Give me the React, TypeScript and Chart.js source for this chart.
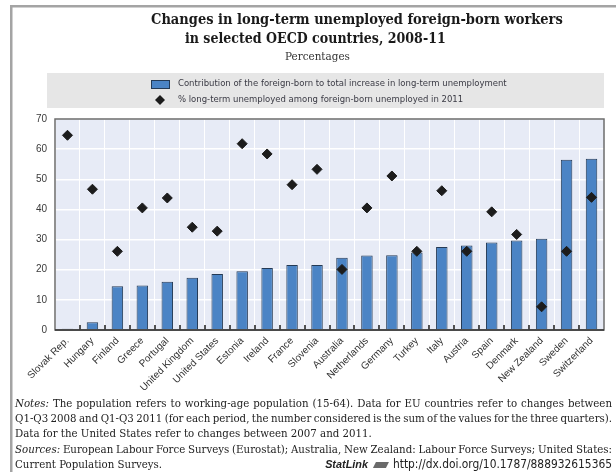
import React, { useEffect, useRef } from "react";
import { Chart, registerables } from "chart.js";

Chart.register(...registerables);

const countries = [
  "Slovak Rep.", "Hungary", "Finland", "Greece", "Portugal", "United Kingdom",
  "United States", "Estonia", "Ireland", "France", "Slovenia", "Australia",
  "Netherlands", "Germany", "Turkey", "Italy", "Austria", "Spain", "Denmark",
  "New Zealand", "Sweden", "Switzerland",
];
const contribution = [
  0.4, 2.6, 14.5, 14.8, 16.0, 17.3, 18.6, 19.5, 20.6, 21.6, 21.6, 24.0,
  24.7, 24.8, 25.7, 27.5, 28.0, 29.0, 29.7, 30.3, 56.5, 56.8,
];
const longTermShare = [
  64.6, 46.7, 26.1, 40.5, 43.8, 34.1, 32.8, 61.8, 58.4, 48.2, 53.3, 20.1,
  40.5, 51.1, 26.1, 46.2, 26.1, 39.2, 31.7, 7.7, 26.1, 44.0,
];
const yMin = 0;
const yMax = 70;
const yStep = 10;

const titleLines = [
  "Changes in long-term unemployed foreign-born workers",
  "in selected OECD countries, 2008-11",
];
const subtitle = "Percentages";
const legendLabels = [
  "Contribution of the foreign-born to total increase in long-term unemployment",
  "% long-term unemployed among foreign-born unemployed in 2011",
];
const noteLines: { text: string; italicFirst: boolean; justify: boolean }[] = [
  { text: "Notes: The population refers to working-age population (15-64). Data for EU countries refer to changes between", italicFirst: true, justify: true },
  { text: "Q1-Q3 2008 and Q1-Q3 2011 (for each period, the number considered is the sum of the values for the three quarters).", italicFirst: false, justify: true },
  { text: "Data for the United States refer to changes between 2007 and 2011.", italicFirst: false, justify: false },
  { text: "Sources: European Labour Force Surveys (Eurostat); Australia, New Zealand: Labour Force Surveys; United States:", italicFirst: true, justify: true },
  { text: "Current Population Surveys.", italicFirst: false, justify: false },
];
const statLinkLabel = "StatLink";
const statLinkUrl = "http://dx.doi.org/10.1787/888932615365";

const BAR_FILL = "#4b84c5";
const BAR_BORDER = "#243a55";
const DIAMOND = "#1c1c1c";
const PLOT_BG = "#e7ebf6";
const TITLE_SERIF = "'DejaVu Serif Condensed', 'DejaVu Serif', serif";
const NOTE_SERIF = "'DejaVu Serif Condensed', 'Liberation Serif', serif";
const SANS = "'Liberation Sans', Arial, sans-serif";
const NARROW = "'Liberation Sans Narrow', 'DejaVu Sans Condensed', 'Liberation Sans', sans-serif";

function fitText(ctx: CanvasRenderingContext2D, text: string, weight: string, family: string, base: number, x0: number, x1: number, y: number) {
  ctx.font = `${weight} ${base}px ${family}`;
  const w = ctx.measureText(text).width;
  const size = base * (x1 - x0) / w;
  ctx.font = `${weight} ${size}px ${family}`;
  ctx.textAlign = "left";
  ctx.textBaseline = "middle";
  ctx.fillText(text, x0, y);
  return size;
}

const decorPlugin = {
  id: "decor",
  beforeDraw(chart: any) {
    const ctx: CanvasRenderingContext2D = chart.ctx;
    const { left, right, top, bottom } = chart.chartArea;
    ctx.save();
    ctx.fillStyle = "#ffffff";
    ctx.fillRect(0, 0, chart.width, chart.height);
    // frame
    ctx.fillStyle = "#a4a4a4";
    ctx.fillRect(10, 5, chart.width - 10, 2.5);
    ctx.fillRect(10, 5, 2.5, chart.height - 5);
    // plot background
    ctx.fillStyle = PLOT_BG;
    ctx.fillRect(left, top, right - left, bottom - top);
    // title
    ctx.fillStyle = "#1a1a1a";
    fitText(ctx, titleLines[0], "bold", TITLE_SERIF, 15, 151, 563, 20);
    fitText(ctx, titleLines[1], "bold", TITLE_SERIF, 15, 185, 446, 39);
    ctx.fillStyle = "#333333";
    fitText(ctx, subtitle, "normal", TITLE_SERIF, 11, 285, 350, 57);
    // legend box
    ctx.fillStyle = "#e6e6e6";
    ctx.fillRect(47, 73, right - 47, 35);
    ctx.fillStyle = BAR_FILL;
    ctx.fillRect(151, 80, 18, 8);
    ctx.strokeStyle = BAR_BORDER;
    ctx.lineWidth = 1;
    ctx.strokeRect(151.5, 80.5, 18, 8);
    ctx.fillStyle = DIAMOND;
    ctx.beginPath();
    ctx.moveTo(160, 95);
    ctx.lineTo(165, 100);
    ctx.lineTo(160, 105);
    ctx.lineTo(155, 100);
    ctx.closePath();
    ctx.fill();
    ctx.fillStyle = "#3a3a44";
    const sz = fitText(ctx, legendLabels[0], "normal", NARROW, 10.5, 178, 507, 84);
    ctx.font = `${sz}px ${NARROW}`;
    ctx.fillText(legendLabels[1], 178, 100);

    // notes
    const x0 = 15, x1 = 612;
    const target = x1 - x0;
    let size = 12;
    for (const ln of noteLines) {
      if (!ln.justify) continue;
      const words = ln.text.split(" ");
      let sum = 0;
      words.forEach((wd, i) => {
        ctx.font = `${i === 0 && ln.italicFirst ? "italic " : ""}12px ${NOTE_SERIF}`;
        sum += ctx.measureText(wd).width;
      });
      const allowed = 12 * (target - (words.length - 1) * 2.4) / sum;
      size = Math.min(size, allowed);
    }
    const ys = [404, 419, 434, 450, 465];
    ctx.fillStyle = "#222222";
    ctx.textBaseline = "middle";
    ctx.textAlign = "left";
    noteLines.forEach((ln, li) => {
      const words = ln.text.split(" ");
      const widths = words.map((wd, i) => {
        ctx.font = `${i === 0 && ln.italicFirst ? "italic " : ""}${size}px ${NOTE_SERIF}`;
        return ctx.measureText(wd).width;
      });
      const sum = widths.reduce((a, b) => a + b, 0);
      ctx.font = `${size}px ${NOTE_SERIF}`;
      const sp = ln.justify ? (target - sum) / (words.length - 1) : ctx.measureText(" ").width;
      let x = x0;
      words.forEach((wd, i) => {
        ctx.font = `${i === 0 && ln.italicFirst ? "italic " : ""}${size}px ${NOTE_SERIF}`;
        ctx.fillText(wd, x, ys[li]);
        x += widths[i] + sp;
      });
    });
    // statlink
    ctx.textAlign = "right";
    ctx.font = `${size + 0.5}px ${NARROW}`;
    const uw = ctx.measureText(statLinkUrl).width;
    ctx.fillText(statLinkUrl, x1, ys[4]);
    const iconRight = x1 - uw - 4;
    ctx.fillStyle = "#6a6a6a";
    ctx.beginPath();
    ctx.moveTo(iconRight - 16, ys[4] + 3);
    ctx.lineTo(iconRight - 13, ys[4] - 3);
    ctx.lineTo(iconRight, ys[4] - 3);
    ctx.lineTo(iconRight - 3, ys[4] + 3);
    ctx.closePath();
    ctx.fill();
    ctx.fillStyle = "#222222";
    ctx.font = `italic bold ${size - 0.5}px ${SANS}`;
    ctx.fillText(statLinkLabel, iconRight - 21, ys[4]);
    ctx.restore();
  },
  afterDraw(chart: any) {
    const ctx: CanvasRenderingContext2D = chart.ctx;
    const { left, right, top, bottom } = chart.chartArea;
    const xs = chart.scales.x;
    ctx.save();
    // ticks at category boundaries
    ctx.strokeStyle = "#1a1a1a";
    ctx.lineWidth = 1.5;
    const half = (xs.getPixelForValue(1) - xs.getPixelForValue(0)) / 2;
    for (let i = 0; i < countries.length - 1; i++) {
      const px = Math.round(xs.getPixelForValue(i) + half);
      ctx.beginPath();
      ctx.moveTo(px, bottom - 5);
      ctx.lineTo(px, bottom);
      ctx.stroke();
    }
    // border
    ctx.strokeStyle = "#6c6c6c";
    ctx.lineWidth = 1.5;
    ctx.strokeRect(left, top, right - left, bottom - top);
    ctx.strokeStyle = "#333333";
    ctx.beginPath();
    ctx.moveTo(left, bottom);
    ctx.lineTo(right, bottom);
    ctx.stroke();
    ctx.restore();
  },
};

export default function App() {
  const ref = useRef<HTMLCanvasElement | null>(null);
  useEffect(() => {
    document.body.style.margin = "0";
    const canvas = ref.current;
    if (!canvas) return;
    const chart = new Chart(canvas, {
      type: "bar",
      data: {
        labels: countries,
        datasets: [
          {
            type: "bar",
            label: legendLabels[0],
            data: contribution,
            backgroundColor: BAR_FILL,
            borderColor: BAR_BORDER,
            borderWidth: 1,
            categoryPercentage: 1,
            barPercentage: 0.46,
            order: 2,
          } as any,
          {
            type: "line",
            label: legendLabels[1],
            data: longTermShare,
            showLine: false,
            pointStyle: "rectRot",
            pointRadius: 5,
            pointBorderWidth: 1,
            pointBackgroundColor: DIAMOND,
            pointBorderColor: DIAMOND,
            order: 1,
          } as any,
        ],
      },
      options: {
        responsive: false,
        animation: false,
        devicePixelRatio: 1,
        layout: { padding: { top: 119, right: 12, left: 0, bottom: 0 } },
        plugins: {
          legend: { display: false },
          title: { display: false },
          tooltip: { enabled: false },
        },
        scales: {
          x: {
            type: "category",
            offset: true,
            grid: { color: "#ffffff", lineWidth: 1, drawTicks: false, offset: true },
            border: { display: false },
            ticks: {
              autoSkip: false,
              minRotation: 45,
              maxRotation: 45,
              padding: 5,
              color: "#333333",
              font: { family: SANS, size: 10 },
            },
            afterFit: (s: any) => { s.height = 142; },
          },
          y: {
            min: yMin,
            max: yMax,
            grid: { color: "#ffffff", lineWidth: 1.5, drawTicks: false },
            border: { display: false },
            ticks: {
              stepSize: yStep,
              padding: 8,
              color: "#3a3a3a",
              font: { family: SANS, size: 10 },
            },
            afterFit: (s: any) => { s.width = 55; },
          },
        },
      },
      plugins: [decorPlugin],
    });
    return () => chart.destroy();
  }, []);
  return (
    <div style={{ width: 616, height: 472 }}>
      <canvas ref={ref} width={616} height={472} style={{ display: "block" }} />
    </div>
  );
}
